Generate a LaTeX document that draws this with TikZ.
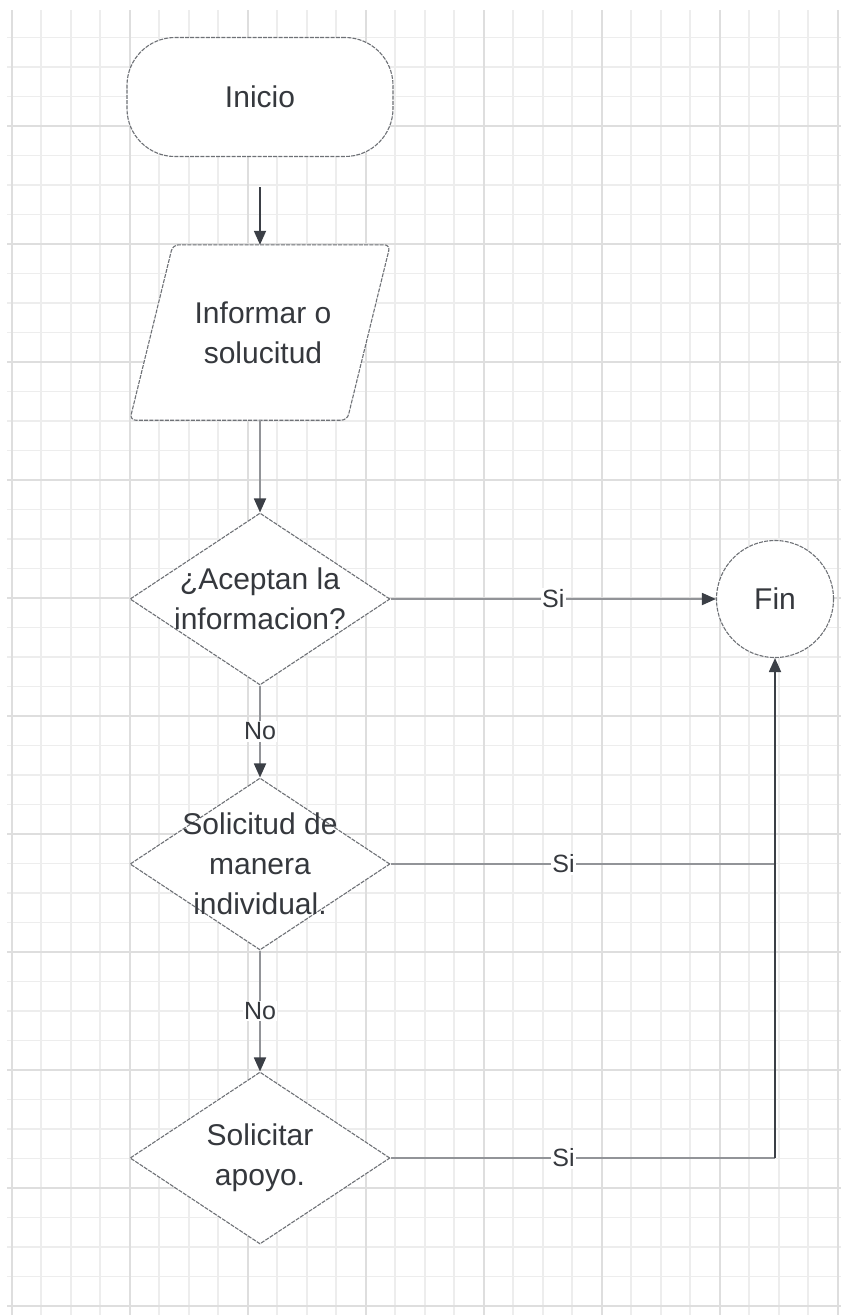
\documentclass[tikz,border=0pt]{standalone}
\usepackage{fontspec}
\setmainfont{Liberation Sans}
\usetikzlibrary{shapes.geometric,arrows.meta,calc}
\definecolor{gridminor}{HTML}{EDEDED}
\definecolor{gridmajor}{HTML}{DEDEDE}
\definecolor{outline}{HTML}{6E7176}
\definecolor{txt}{HTML}{35383D}
\definecolor{darkline}{HTML}{3B3F46}
\definecolor{greyline}{HTML}{929498}
\begin{document}
\begin{tikzpicture}[x=1pt,y=-1pt,
  shapebox/.style={draw=outline, line width=1.1pt, dash pattern=on 4pt off 1.2pt, fill=white},
  nodetext/.style={text=txt, font=\fontsize{30}{40}\selectfont, align=center},
  tip/.style={-{Triangle[length=14pt,width=12pt,color=darkline]}},
  darkconn/.style={draw=darkline, line width=1.8pt, tip},
  greyconn/.style={draw=greyline, line width=1.8pt, tip},
  greyplain/.style={draw=greyline, line width=1.8pt},
  lbl/.style={fill=white, inner sep=1.5pt, text=txt, font=\fontsize{25}{30}\selectfont},
  dia/.style={diamond, shapebox, minimum width=260pt, minimum height=172pt, inner sep=0pt}
]
\useasboundingbox (0,0) rectangle (841,1315);
% grid
\foreach \i in {0,...,28}{
  \pgfmathsetmacro\gx{11.7+29.5*\i}
  \draw[gridminor, line width=1.6pt] (\gx,10) -- (\gx,1315);
}
\foreach \k in {0,...,43}{
  \pgfmathsetmacro\gy{37.5+29.5*\k}
  \draw[gridminor, line width=1.6pt] (7,\gy) -- (841,\gy);
}
\foreach \i in {0,...,7}{
  \pgfmathsetmacro\gx{11.7+118*\i}
  \draw[gridmajor, line width=2.4pt] (\gx,10) -- (\gx,1315);
}
\foreach \k in {0,...,10}{
  \pgfmathsetmacro\gy{126+118*\k}
  \draw[gridmajor, line width=2.4pt] (7,\gy) -- (841,\gy);
}
% nodes
\node[shapebox, rounded corners=48pt, minimum width=266pt, minimum height=119pt, nodetext] (inicio) at (260,97) {Inicio};
\node[minimum width=260pt, minimum height=175pt, inner sep=0pt] (par) at (260,332.5) {};
\draw[shapebox, rounded corners=6pt] (par.south west) -- ([xshift=43pt]par.north west) -- (par.north east) -- ([xshift=-43pt]par.south east) -- cycle;
\node[nodetext] (partext) at ([xshift=3pt]par.center) {Informar o\\solucitud};
\node[dia, label={[nodetext]center:{¿Aceptan la\\informacion?}}] (d1) at (260,599) {};
\node[dia, label={[nodetext]center:{Solicitud de\\manera\\individual.}}] (d2) at (260,864) {};
\node[dia, label={[nodetext]center:{Solicitar\\apoyo.}}] (d3) at (260,1158) {};
\node[circle, shapebox, minimum size=117pt, inner sep=0pt, nodetext] (fin) at (775,599) {Fin};
% connectors
\draw[darkconn] ([yshift=-30pt]inicio.south) -- (par.north);
\draw[greyconn] (par.south) -- (d1.north);
\draw[greyconn] (d1.east) -- node[lbl]{Si} (fin.west);
\draw[greyconn] (d1.south) -- node[lbl]{No} (d2.north);
\draw[greyconn] (d2.south) -- node[lbl]{No} (d3.north);
\coordinate (j2) at (d2.east -| fin.south);
\coordinate (j3) at (d3.east -| fin.south);
\draw[greyplain] (d2.east) -- node[lbl, pos=0.45]{Si} (j2);
\draw[greyplain] (d3.east) -- node[lbl, pos=0.45]{Si} (j3);
\draw[darkconn] (j3) -- (fin.south);
\end{tikzpicture}
\end{document}
